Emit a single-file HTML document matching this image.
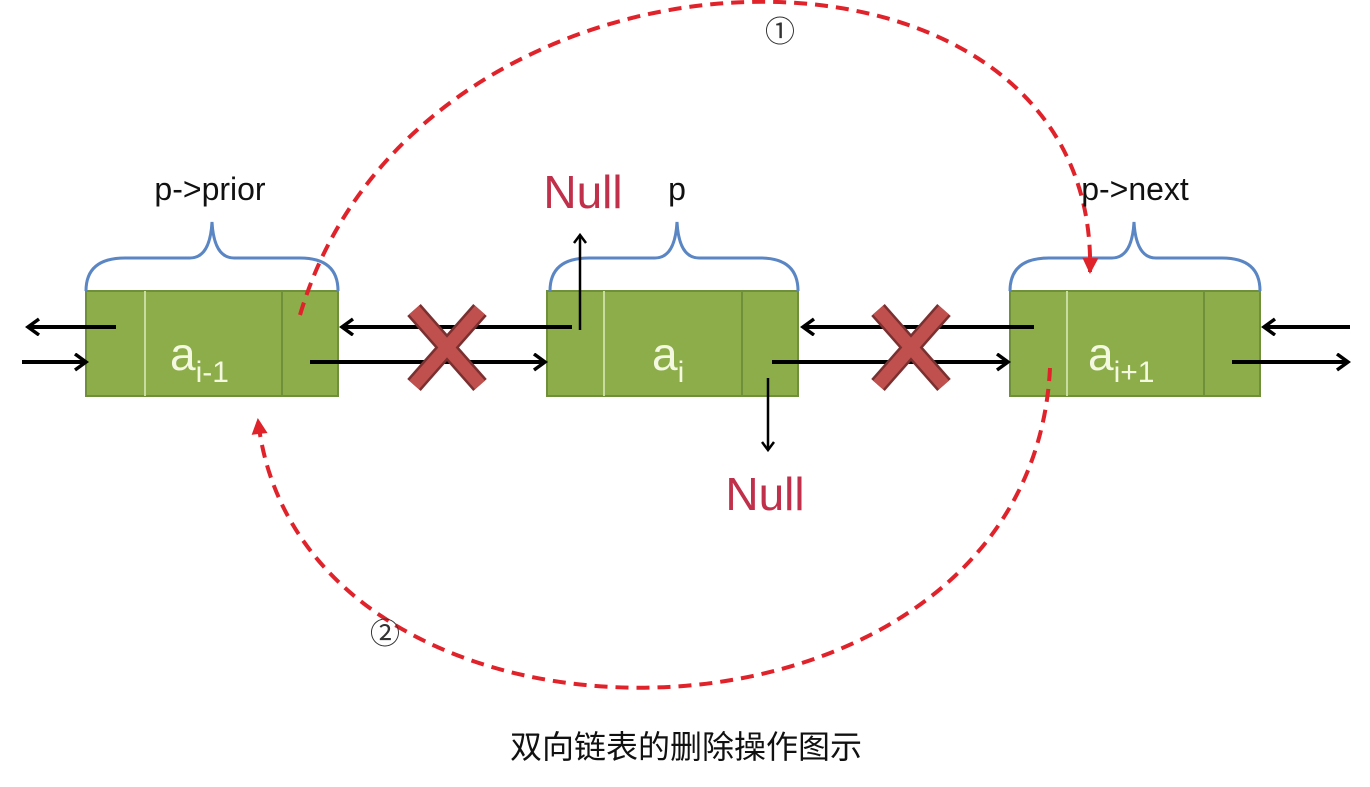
<!DOCTYPE html>
<html><head><meta charset="utf-8"><style>
body{margin:0;background:#fff;width:1370px;height:782px;overflow:hidden}
svg text{font-family:"Liberation Sans","Noto Sans CJK SC",sans-serif}
</style></head><body>
<svg width="1370" height="782" viewBox="0 0 1370 782">
<defs>
<marker id="ah" markerWidth="20" markerHeight="20" refX="13" refY="9" orient="auto" markerUnits="userSpaceOnUse"><path d="M2,1 L13,9 L2,17" fill="none" stroke="#000" stroke-width="3.5"/></marker>
<marker id="ahs" markerWidth="16" markerHeight="16" refX="10" refY="7" orient="auto" markerUnits="userSpaceOnUse"><path d="M2,1 L10,7 L2,13" fill="none" stroke="#000" stroke-width="2.5"/></marker>
<marker id="ahr" markerWidth="24" markerHeight="24" refX="18" refY="12" orient="auto" markerUnits="userSpaceOnUse"><path d="M4,4 L20,12 L4,20 Z" fill="#e0222a"/></marker>
</defs>
<g>
<rect x="86" y="291" width="252" height="105" fill="#8cad4a" stroke="#6f8f3a" stroke-width="2"/>
<line x1="145" y1="291" x2="145" y2="396" stroke="#c9dca0" stroke-width="2"/>
<line x1="282" y1="291" x2="282" y2="396" stroke="#6f8f3a" stroke-width="2"/>
<text x="170" y="370" font-size="46" fill="#f4f8e0">a<tspan font-size="30" dy="12">i-1</tspan></text>
</g>
<g>
<rect x="547" y="291" width="251" height="105" fill="#8cad4a" stroke="#6f8f3a" stroke-width="2"/>
<line x1="604" y1="291" x2="604" y2="396" stroke="#c9dca0" stroke-width="2"/>
<line x1="742" y1="291" x2="742" y2="396" stroke="#6f8f3a" stroke-width="2"/>
<text x="652" y="370" font-size="46" fill="#f4f8e0">a<tspan font-size="30" dy="12">i</tspan></text>
</g>
<g>
<rect x="1010" y="291" width="250" height="105" fill="#8cad4a" stroke="#6f8f3a" stroke-width="2"/>
<line x1="1067" y1="291" x2="1067" y2="396" stroke="#c9dca0" stroke-width="2"/>
<line x1="1204" y1="291" x2="1204" y2="396" stroke="#6f8f3a" stroke-width="2"/>
<text x="1088" y="370" font-size="46" fill="#f4f8e0">a<tspan font-size="30" dy="12">i+1</tspan></text>
</g>
<g fill="none" stroke="#5b86c4" stroke-width="3">
<path d="M86,291 Q86,258 125,258 L190,258 Q210,258 212,222 Q214,258 234,258 L300,258 Q338,258 338,291"/>
<path d="M550,291 Q550,258 589,258 L655,258 Q675,258 677,222 Q679,258 699,258 L760,258 Q798,258 798,291"/>
<path d="M1010,291 Q1010,258 1049,258 L1112,258 Q1132,258 1134,222 Q1136,258 1156,258 L1222,258 Q1260,258 1260,291"/>
</g>
<g stroke="#000" stroke-width="4" fill="none">
<line x1="116" y1="327" x2="28" y2="327" marker-end="url(#ah)"/>
<line x1="22" y1="362" x2="86" y2="362" marker-end="url(#ah)"/>
<line x1="572" y1="327" x2="342" y2="327" marker-end="url(#ah)"/>
<line x1="310" y1="362" x2="545" y2="362" marker-end="url(#ah)"/>
<line x1="1034" y1="327" x2="803" y2="327" marker-end="url(#ah)"/>
<line x1="772" y1="362" x2="1008" y2="362" marker-end="url(#ah)"/>
<line x1="1350" y1="327" x2="1264" y2="327" marker-end="url(#ah)"/>
<line x1="1232" y1="362" x2="1348" y2="362" marker-end="url(#ah)"/>
<line x1="580" y1="330" x2="580" y2="235" stroke-width="2.5" marker-end="url(#ahs)"/>
<line x1="768" y1="378" x2="768" y2="450" stroke-width="2.5" marker-end="url(#ahs)"/>
</g>
<g stroke="#7a3030" stroke-width="18" stroke-linecap="butt">
<line x1="414" y1="310" x2="480" y2="385"/><line x1="480" y1="310" x2="414" y2="385"/>
<line x1="878" y1="310" x2="944" y2="385"/><line x1="944" y1="310" x2="878" y2="385"/>
</g>
<g stroke="#c0504d" stroke-width="13">
<line x1="414" y1="310" x2="480" y2="385"/><line x1="480" y1="310" x2="414" y2="385"/>
<line x1="878" y1="310" x2="944" y2="385"/><line x1="944" y1="310" x2="878" y2="385"/>
</g>
<g fill="none" stroke="#e0222a" stroke-width="4" stroke-dasharray="13,8">
<path d="M300,315 C420,-90 1100,-100 1090,272" marker-end="url(#ahr)"/>
<path d="M1050,368 C1030,780 300,790 258,420" marker-end="url(#ahr)"/>
</g>
<text x="210" y="200" font-size="32" text-anchor="middle" fill="#111">p-&gt;prior</text>
<text x="677" y="200" font-size="32" text-anchor="middle" fill="#111">p</text>
<text x="1135" y="200" font-size="32" text-anchor="middle" fill="#111">p-&gt;next</text>
<text x="583" y="208" font-size="46" text-anchor="middle" fill="#c0304a">Null</text>
<text x="765" y="510" font-size="46" text-anchor="middle" fill="#c0304a">Null</text>
<text x="780" y="42" font-size="30" text-anchor="middle" fill="#333">①</text>
<text x="385" y="644" font-size="30" text-anchor="middle" fill="#333">②</text>
<text x="686" y="758" font-size="32" text-anchor="middle" fill="#111">双向链表的删除操作图示</text>
</svg>
</body></html>
